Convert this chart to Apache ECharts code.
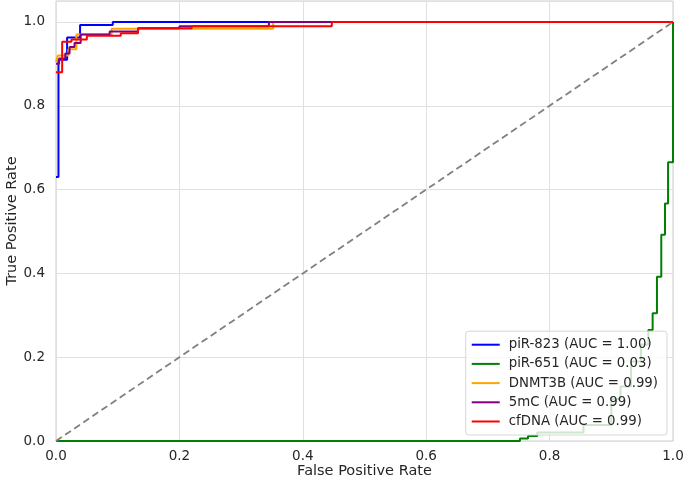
<!DOCTYPE html>
<html>
<head>
<meta charset="utf-8">
<script src="https://cdn.jsdelivr.net/npm/echarts@6/dist/echarts.min.js"></script>
<style>
  html, body { margin: 0; padding: 0; background: #fff; }
  #chart { width: 685px; height: 485px; }
</style>
</head>
<body>
<div id="chart"></div>
<script>
// ROC curves, [fpr, tpr] points
const piR823 = [[0, 0.63], [0.004, 0.63], [0.004, 0.91], [0.018, 0.91], [0.018, 0.963], [0.039, 0.963], [0.039, 0.993], [0.092, 0.993], [0.092, 1], [1, 1]]
const piR651 = [[0, 0], [0.752, 0], [0.752, 0.006], [0.765, 0.006], [0.765, 0.012], [0.78, 0.012], [0.78, 0.02], [0.855, 0.02], [0.855, 0.038], [0.9, 0.038], [0.9, 0.1], [0.915, 0.1], [0.915, 0.13], [0.932, 0.13], [0.932, 0.19], [0.948, 0.19], [0.948, 0.23], [0.96, 0.23], [0.96, 0.265], [0.967, 0.265], [0.967, 0.305], [0.974, 0.305], [0.974, 0.392], [0.981, 0.392], [0.981, 0.492], [0.987, 0.492], [0.987, 0.567], [0.992, 0.567], [0.992, 0.665], [1, 0.665], [1, 1]]
const dnmt3b = [[0, 0.905], [0.003, 0.905], [0.003, 0.92], [0.02, 0.92], [0.02, 0.935], [0.033, 0.935], [0.033, 0.97], [0.09, 0.97], [0.09, 0.984], [0.352, 0.984], [0.352, 1], [1, 1]]
const mC5 = [[0, 0.9], [0.005, 0.9], [0.005, 0.913], [0.015, 0.913], [0.015, 0.925], [0.022, 0.925], [0.022, 0.94], [0.03, 0.94], [0.03, 0.95], [0.04, 0.95], [0.04, 0.97], [0.087, 0.97], [0.087, 0.977], [0.133, 0.977], [0.133, 0.985], [0.2, 0.985], [0.2, 0.99], [0.345, 0.99], [0.345, 1], [1, 1]]
const cfDNA = [[0, 0.88], [0.01, 0.88], [0.01, 0.953], [0.025, 0.953], [0.025, 0.958], [0.05, 0.958], [0.05, 0.967], [0.105, 0.967], [0.105, 0.973], [0.133, 0.973], [0.133, 0.985], [0.22, 0.985], [0.22, 0.99], [0.447, 0.99], [0.447, 1], [1, 1]]
const chance = [[0, 0], [1, 1]]

const names = ['piR-823 (AUC = 1.00)', 'piR-651 (AUC = 0.03)', 'DNMT3B (AUC = 0.99)', '5mC (AUC = 0.99)', 'cfDNA (AUC = 0.99)']
const colors = ['#0000ff', '#008000', '#ffa500', '#800080', '#ff0000']
const curves = [piR823, piR651, dnmt3b, mC5, cfDNA]

const font = 'DejaVu Sans'
const chart = echarts.init(document.getElementById('chart'))

const series = curves.map((d, i) => ({
  name: names[i],
  type: 'line',
  data: d,
  symbol: 'none',
  color: colors[i],
  lineStyle: { color: colors[i], width: 2 },
  z: 3
}))
series.push({
  name: 'chance',
  type: 'line',
  data: chance,
  symbol: 'none',
  silent: true,
  lineStyle: { color: '#808080', width: 1.8, type: [7, 4] },
  z: 3
})

chart.setOption({
  animation: false,
  textStyle: { fontFamily: font },
  grid: {
    left: 56, right: 12, top: 1, bottom: 44,
    outerBoundsMode: 'none', containLabel: false,
    show: true, borderColor: '#cccccc', borderWidth: 1, backgroundColor: '#fff'
  },
  xAxis: {
    type: 'value', min: 0, max: 1, interval: 0.2,
    name: 'False Positive Rate', nameLocation: 'middle', nameGap: 23, nameMoveOverlap: false,
    nameTextStyle: { fontFamily: font, fontSize: 14.5, color: '#262626' },
    axisLine: { show: false }, axisTick: { show: false },
    axisLabel: { fontFamily: font, fontSize: 13.5, color: '#262626', margin: 8, formatter: v => v.toFixed(1) },
    splitLine: { lineStyle: { color: '#e0e0e0', width: 1 } }
  },
  yAxis: {
    type: 'value', min: 0, max: 1.05, interval: 0.2,
    name: 'True Positive Rate', nameLocation: 'middle', nameGap: 36, nameMoveOverlap: false,
    nameTextStyle: { fontFamily: font, fontSize: 14.5, color: '#262626' },
    axisLine: { show: false }, axisTick: { show: false },
    axisLabel: { fontFamily: font, fontSize: 13.5, color: '#262626', margin: 11, formatter: v => v > 1.001 ? '' : v.toFixed(1) },
    splitLine: { lineStyle: { color: '#e0e0e0', width: 1 } }
  },
  legend: {
    data: names,
    orient: 'vertical',
    right: 18, bottom: 50,
    icon: 'rect', itemWidth: 28, itemHeight: 2,
    itemGap: 6.2,
    padding: [7, 9, 7, 6],
    backgroundColor: 'rgba(255,255,255,0.8)',
    borderColor: '#d6d6d6', borderWidth: 1, borderRadius: 3,
    textStyle: { fontFamily: font, fontSize: 13.3, color: '#262626', padding: [0, 0, 0, 4] }
  },
  series
})
</script>
</body>
</html>
